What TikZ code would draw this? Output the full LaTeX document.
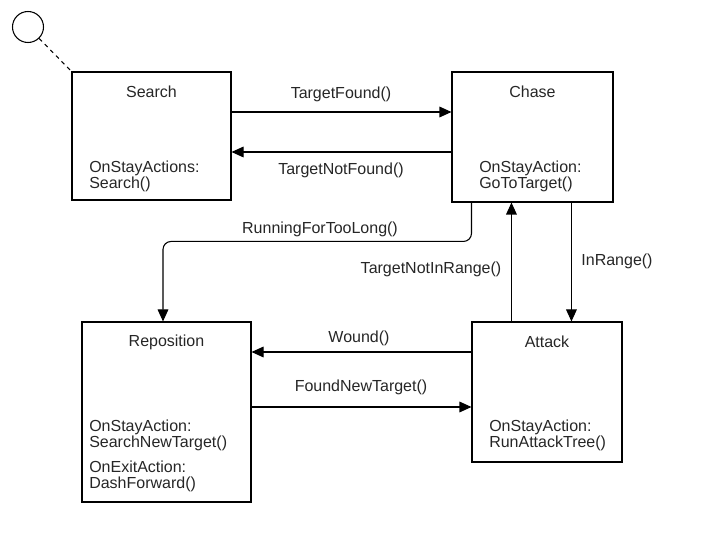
\documentclass[tikz,border=0pt]{standalone}
\usepackage{fontspec}
\setmainfont{Liberation Sans}
\usetikzlibrary{arrows.meta,calc}
\begin{document}
\begin{tikzpicture}[x=0.75pt,y=-0.75pt,
  every node/.style={font=\fontsize{12}{12}\selectfont, text=black!85},
  statebox/.style={draw, line width=0.8pt, inner sep=0pt},
  txt/.style={inner sep=0pt, align=left, anchor=west},
  lbl/.style={inner sep=0pt},
  arr/.style={line width=0.8pt, -{Triangle[length=9pt,width=8pt]}}]
\useasboundingbox (0,0) rectangle (701,552);
% states
\node[draw, circle, line width=0.8pt, minimum size=23.25pt, inner sep=0pt] (init) at (28,27) {};
\node[statebox, minimum width=119.25pt, minimum height=96pt] (search) at (151.5,136) {};
\node[statebox, minimum width=120.75pt, minimum height=97.5pt] (chase) at (532.5,137) {};
\node[statebox, minimum width=126.75pt, minimum height=135pt] (repos) at (166.5,412) {};
\node[statebox, minimum width=112.5pt, minimum height=105pt] (attack) at (547,392) {};
% state texts
\node[lbl] (searcht) at (151.5,92) {Search};
\node[txt] (searcha) at (89,176) {OnStayActions:\\Search()};
\node[lbl] (chaset) at (532.5,92) {Chase};
\node[txt] (chasea) at (479,176) {OnStayAction:\\GoToTarget()};
\node[lbl] (repost) at (166.5,342) {Reposition};
\node[txt] (reposa) at (89,435) {OnStayAction:\\SearchNewTarget()};
\node[txt] (reposb) at (89,476) {OnExitAction:\\DashForward()};
\node[lbl] (attackt) at (547,342) {Attack};
\node[txt] (attacka) at (489,435) {OnStayAction:\\RunAttackTree()};
% initial link
\draw[dashed, line width=0.8pt] (init) -- (search.north west);
% connectors
\coordinate (tf) at ($(search.east)+(0,-24)$);
\draw[arr] (tf) -- (tf -| chase.west);
\coordinate (tnf) at ($(chase.west)+(0,15)$);
\draw[arr] (tnf) -- (tnf -| search.east);
\coordinate (rl) at ($(chase.south west)+(20,0)$);
\coordinate (rlend) at ($(repos.north)+(-3.5,0)$);
\draw[arr, rounded corners=6pt] (rl) |- ($(rlend)+(0,-80)$) -- (rlend);
\coordinate (tnr) at ($(attack.north west)+(40,0)$);
\draw[arr] (tnr) -- (tnr |- chase.south);
\coordinate (ir) at ($(chase.south west)+(120,0)$);
\draw[arr] (ir) -- (ir |- attack.north);
\coordinate (wd) at ($(attack.west)+(0,-40)$);
\draw[arr] (wd) -- (wd -| repos.east);
\coordinate (fnt) at ($(repos.east)+(0,-5)$);
\draw[arr] (fnt) -- (fnt -| attack.west);
% labels
\node[lbl] (l1) at (341,94) {TargetFound()};
\node[lbl] (l2) at (341,170) {TargetNotFound()};
\node[lbl] (l3) at (320,229) {RunningForTooLong()};
\node[lbl] (l4) at (431,269) {TargetNotInRange()};
\node[lbl] (l5) at (617,261) {InRange()};
\node[lbl] (l6) at (359,338) {Wound()};
\node[lbl] (l7) at (361,387) {FoundNewTarget()};
\end{tikzpicture}
\end{document}
